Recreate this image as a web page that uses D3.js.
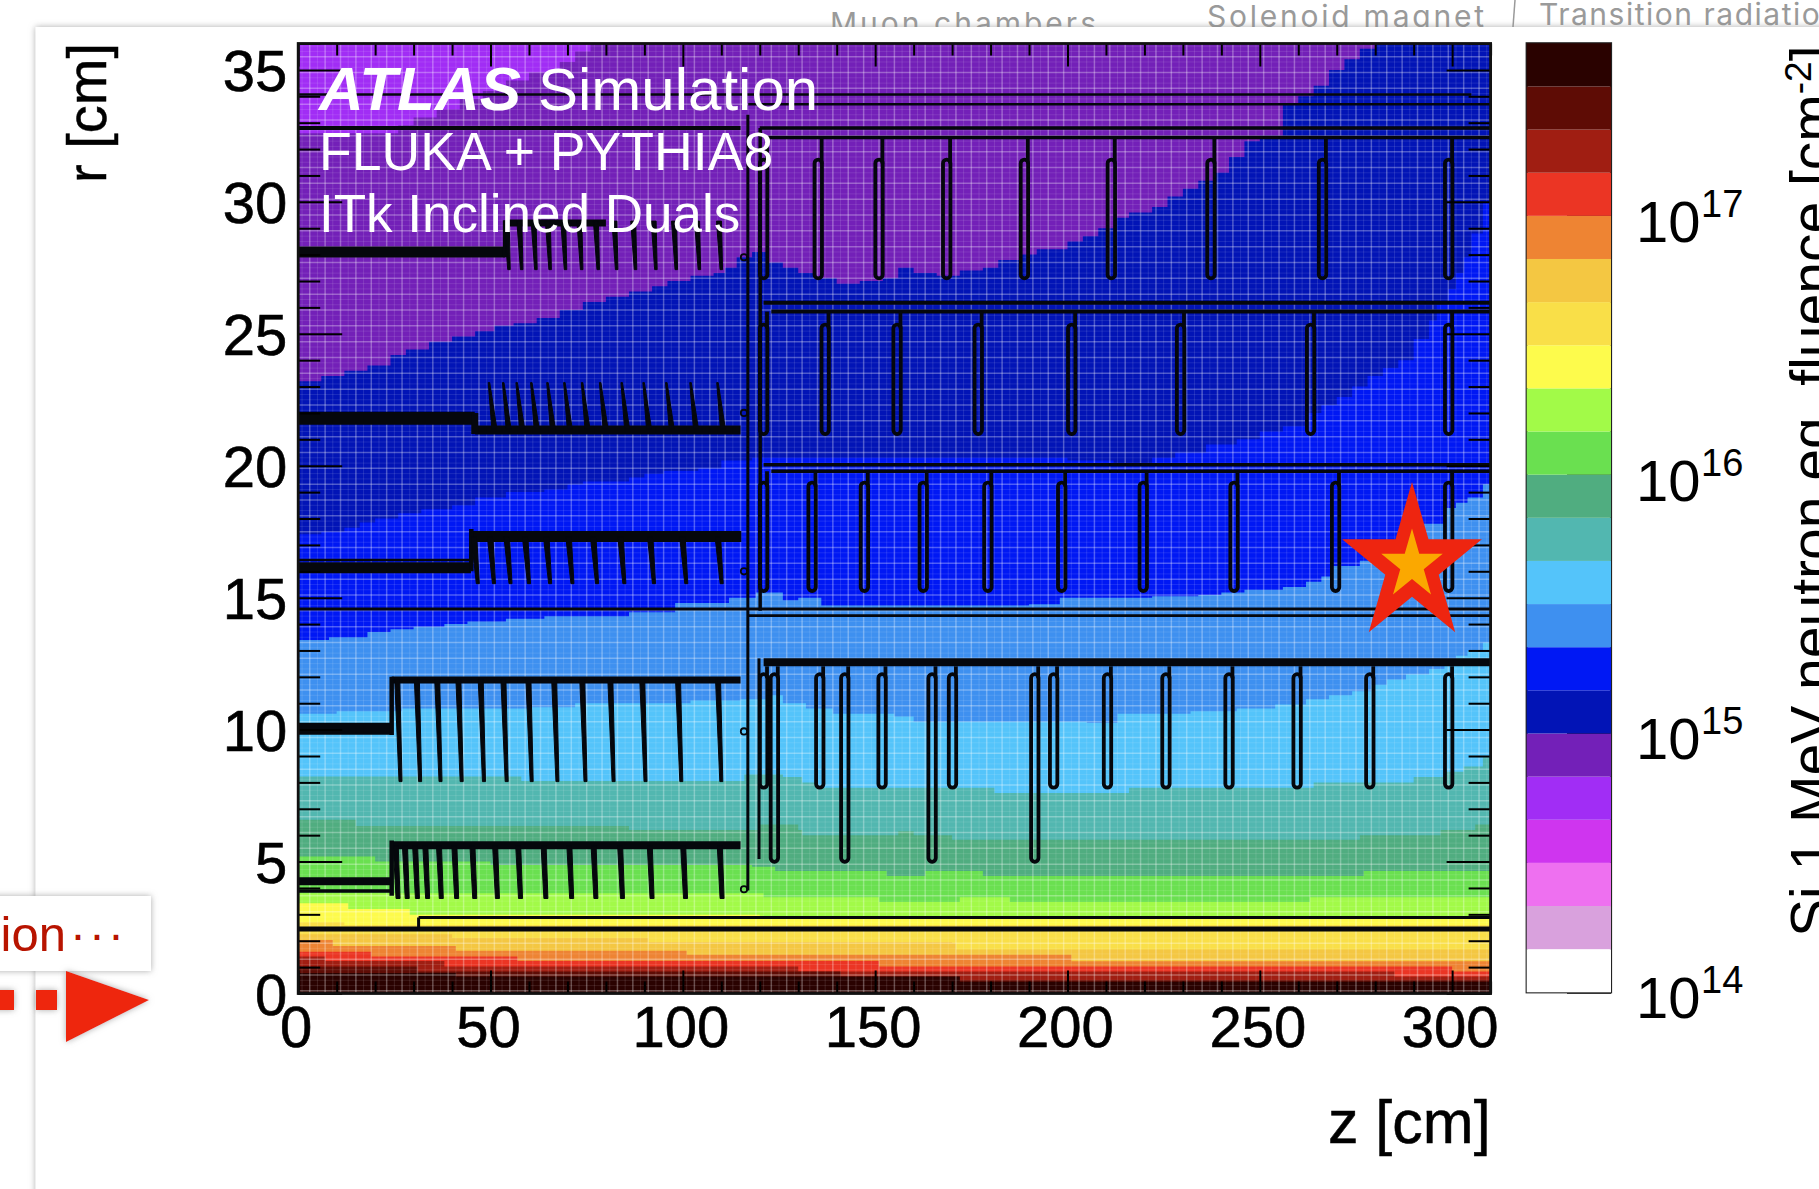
<!DOCTYPE html>
<html>
<head>
<meta charset="utf-8">
<script src="https://d3js.org/d3.v7.min.js"></script>
<style>
body { margin: 0; background: #fff; }
svg { display: block; }
text { font-family: "Liberation Sans", Arial, sans-serif; }
.slideText { font-family: Inter, sans-serif; fill: #9a9a9a; }
</style>
</head>
<body>
<svg width="1819" height="1189"></svg>
<script>
const width = 1819
const height = 1189

// colour bar, bottom to top, 6 bands per decade
const bandColors = ["#ffffff","#d9a1dd","#ee70f0","#cf35ef","#a12df5","#7320b8","#0214b6","#0018f4","#3e90f0","#54c4fa","#52b7b0","#50ad80","#6ae050","#a2fa48","#fdfb4c","#f9df48","#f4c742","#ee8433","#eb3524","#a01e12","#5e0c05","#2a0200"]
const cbarMajor = [1e14, 1e15, 1e16, 1e17]
const cbarMinor = [2e14,3e14,4e14,5e14,6e14,7e14,8e14,9e14,2e15,3e15,4e15,5e15,6e15,7e15,8e15,9e15,2e16,3e16,4e16,5e16,6e16,7e16,8e16,9e16,2e17,3e17,4e17]
const cbarExponents = [14, 15, 16, 17]

const zTicks = [0, 50, 100, 150, 200, 250, 300]
const zMinor = [10,20,30,40,60,70,80,90,110,120,130,140,160,170,180,190,210,220,230,240,260,270,280,290,310]
const rTicks = [0, 5, 10, 15, 20, 25, 30, 35]
const rMinor = [1,2,3,4,6,7,8,9,11,12,13,14,16,17,18,19,21,22,23,24,26,27,28,29,31,32,33,34,36]

// upper edge of each flux band, [z, r], stepped
const edgeDarkPurple = [[0,32.6],[20,32.6],[26,32.9],[30,33.2],[36,33.5],[42,33.9],[48,34.2],[54,34.6],[60,34.9],[68,35.3],[72,35.7],[76,36],[310,36]]
const edgeDarkBlue = [[0,23.2],[6,23.4],[12,23.6],[18,23.8],[24,24.2],[28,24.4],[34,24.7],[40,24.9],[46,25.1],[51,25.3],[56,25.4],[62,25.6],[68,25.9],[74,26.2],[80,26.4],[86,26.6],[92,26.8],[96,27],[102,27.2],[108,27.3],[111,27.5],[114,27.9],[118,28.1],[122,27.7],[126,27.5],[130,27.3],[134,27.1],[140,26.9],[146,27],[152,27.1],[156,27.5],[160,27.3],[166,27.2],[172,27.4],[178,27.5],[182,27.8],[188,28],[192,28.2],[200,28.5],[204,28.7],[208,29],[212,29.4],[216,29.6],[222,29.8],[226,30.2],[230,30.5],[234,30.8],[238,31.1],[242,31.7],[246,32.3],[250,32.5],[256,33.7],[260,34],[264,34.4],[268,35],[272,35.4],[276,35.8],[280,36],[310,36]]
const edgeBlue = [[0,17.4],[6,17.5],[12,17.65],[16,17.85],[20,18],[26,18.2],[32,18.35],[40,18.5],[46,18.8],[54,19],[64,19.1],[70,19.3],[74,19.4],[86,19.55],[90,19.7],[95,19.8],[104,19.9],[110,20.2],[118,20.3],[140,20.3],[180,20.3],[200,20.2],[212,20.1],[222,20.3],[228,20.5],[236,20.8],[244,21],[250,21.3],[256,21.5],[262,22],[266,22.3],[270,22.6],[274,23],[278,23.4],[282,23.7],[286,24],[290,24.8],[294,25.5],[296,26.1],[299,26.7],[301,27.3],[303,27.9],[305,28.8],[308,30],[310,30]]
const edgeMidBlue = [[0,13.4],[8,13.5],[18,13.7],[24,13.8],[30,13.9],[38,14],[44,14.1],[54,14.2],[64,14.3],[78,14.3],[86,14.45],[98,14.8],[104,14.8],[112,15],[119,15.2],[126,14.9],[130,15],[136,14.7],[170,14.7],[190,14.75],[198,15],[222,15.05],[234,15.1],[240,15.2],[246,15.3],[256,15.4],[262,15.6],[266,15.8],[269,16.2],[276,16.4],[284,17],[292,17.8],[298,18.4],[301,18.6],[304,18.8],[308,19.3],[310,19.7]]
const edgeLightBlue = [[0,10.6],[10,10.7],[27,10.8],[60,10.85],[72,11],[88,11],[102,11.1],[115,11.15],[122,11.3],[126,11],[132,10.8],[139,10.6],[155,10.5],[160,10.3],[205,10.25],[213,10.6],[232,10.7],[244,10.8],[254,10.95],[262,11.15],[268,11.3],[274,11.45],[279,11.7],[283,11.9],[288,12.1],[294,12.3],[298,12.6],[301,12.8],[304,13],[308,13.3],[310,13.45]]
const edgeTeal = [[0,8.22],[52,8.22],[58,8.05],[112,8.05],[116,8.3],[126,8.2],[131,8],[135,7.8],[178,7.8],[181,7.6],[212,7.6],[216,7.8],[256,7.8],[264,8],[280,8],[290,8.2],[298,8.4],[303,8.6],[308,8.95],[310,8.95]]
const edgeSeaGreen = [[0,6.58],[14,6.58],[15,6.35],[80,6.35],[86,6.2],[120,6.4],[130,6.2],[131,6],[152,6],[156,6.15],[160,6],[170,5.83],[270,5.83],[276,6],[296,6],[297,6.2],[306,6.4],[310,6.4]]
const edgeGreen = [[0,5.19],[19,5.19],[20,5],[50,4.87],[115,4.87],[118,4.8],[124,4.64],[152,4.64],[153,4.45],[162,4.45],[163,4.64],[177,4.64],[178,4.45],[276,4.45],[277,4.64],[310,4.64]]
const edgeLime = [[0,3.8],[120,3.8],[121,3.65],[150,3.65],[151,3.47],[170,3.47],[172,3.65],[185,3.47],[262,3.47],[263,3.65],[310,3.65]]
const edgeYellow = [[0,3.42],[12,3.42],[13,3.2],[28,3.2],[29,2.98],[120,2.95],[121,2.87],[310,2.87]]
const edgeGold = [[0,2.7],[12,2.6],[310,2.4]]
const edgeAmber = [[0,2.25],[40,2.1],[91,1.95],[170,1.92],[171,1.67],[310,1.67]]
const edgeOrange = [[0,2.03],[8,2.03],[9,1.8],[40,1.8],[41,1.62],[100,1.62],[101,1.47],[200,1.47],[201,1.22],[310,1.22]]
const edgeRed = [[0,1.58],[18,1.58],[19,1.4],[56,1.4],[57,1.23],[150,1.23],[151,1.02],[299,1.02],[300,0.83],[310,0.83]]
const edgeDarkRed = [[0,1.4],[6,1.4],[7,1.23],[37,1.23],[38,1.02],[129,1.02],[130,0.83],[284,0.83],[285,0.64],[310,0.64]]
const edgeMaroon = [[0,1.02],[30,1.02],[31,0.83],[140,0.83],[141,0.64],[171,0.64],[172,0.5],[310,0.5]]
const edgeBlack = [[0,0.78],[40,0.78],[41,0.64],[171,0.64],[172,0.45],[310,0.4]]

// band index in bandColors, edge, painted from the top of the plot downwards
const heatBands = [
  [5, edgeDarkPurple], [6, edgeDarkBlue], [7, edgeBlue], [8, edgeMidBlue],
  [9, edgeLightBlue], [10, edgeTeal], [11, edgeSeaGreen], [12, edgeGreen],
  [13, edgeLime], [14, edgeYellow], [15, edgeGold], [16, edgeAmber],
  [17, edgeOrange], [18, edgeRed], [19, edgeDarkRed], [20, edgeMaroon], [21, edgeBlack]
]

// detector outlines. straight tubes: zStart, zEnd, r, stroke px
const tubes = [
  [0,305,34.07,2.4],[117,310,33.7,2.4],[0,115,32.8,4],[120,310,32.8,3.5],[122,310,32.44,3.5],
  [121,310,26.18,4],[123,310,25.84,4],[121,310,20.04,3.5],[123,310,19.79,3.5],
  [0,310,14.57,3.2],[117,310,14.32,2.6],[121,310,12.55,8],[31.3,310,2.88,3],[0,310,2.44,5],
  [0,24.3,4.25,8],[0,24.3,3.88,3.5],[24.3,115,5.62,8],
  [0,24.3,10.03,12],[24.3,115,11.88,7],
  [0,44.9,16.13,11],[0,44.9,16.43,2.5],[45,115.2,17.32,11],
  [0,45.9,21.8,13],[46,115,21.35,9],
  [0,53.8,28.1,11],[54,80,29.2,7]
]
// vertical pieces: z, rLow, rHigh, stroke px
const posts = [
  [116.9,3.9,33.3,3],[120.1,14.5,32.8,3.5],[119.8,5.1,12.7,3],[31.3,2.44,2.88,3],
  [24.3,3.7,5.8,4.5],[24.3,9.8,12,4.5],[45,16,17.6,4.5],[45.9,21.2,22,7],[53.8,27.9,29.3,4.5]
]
const ringClips = [[115.9,27.9],[115.9,22],[115.9,16],[115.9,9.93],[115.9,3.95]]

// inclined modules: bottom z of each, rTop, rBottom, tilt of the top in z, px width at top and bottom
const finsL0 = [25.96,28.35,31,33.65,37.2,41.2,45.9,51.8,57.8,64.4,71.1,77.4,84.3,92,100.7,110.2]
const finsL1 = [26.6,31.7,37,42.5,48.3,54.2,60.7,67.4,74.7,82,90.3,99.6,110]
const finsL2 = [46.7,50.9,55.2,60,65.5,71.3,77.7,84.8,92.5,100.9,110.1]
const finsL3 = [51,54.7,58.2,62,66.2,70.6,75.2,79.9,85.5,91.2,97.1,103.4,110.4]
const finsL4 = [54.8,58.1,61.8,65.5,69.5,73.7,78,82.8,87.7,93,98.3,104.3,110]
const finGroups = [
  [finsL0, 5.6, 3.6, 0.6, 5, 4], [finsL1, 11.9, 8.03, 0.85, 5, 3], [finsL2, 17.3, 15.53, 1, 5.5, 3],
  [finsL3, 23.15, 21.4, 1.4, 1.5, 5], [finsL4, 29.27, 27.43, 0.6, 5, 2.5]
]

// end-cap rings: z of each capsule, rTop, rBottom, r the stem starts from
const ringsA = [121,135.2,151,168.6,188.8,211.4,237.3,266.3,299.1]
const ringsB = [121,137,155.7,176.8,201.1,229.4,263.2,299.1]
const ringsC = [121,133.6,147.2,162.5,179.3,198.5,219.7,243.3,269.7,299.1]
const ringsD = [121,135.6,151.8,170.1,196.4,210.4,225.6,242,259.7,278.6,299.1]
const ringsE = [123.8,142.1,164.8,191.5]
const ringGroups = [
  [ringsA, 31.6, 27.1, 32.44], [ringsB, 25.35, 21.2, 25.84], [ringsC, 19.36, 15.25, 19.79],
  [ringsD, 12.1, 7.8, 12.4], [ringsE, 12.1, 4.99, 12.4]
]

const svg = d3.select("svg")
const defs = svg.append("defs")

const shadow = defs.append("filter").attr("id", "shadow")
  .attr("x", "-10%").attr("y", "-10%").attr("width", "120%").attr("height", "120%")
shadow.append("feDropShadow").attr("dx", 0).attr("dy", 0).attr("stdDeviation", 3)
  .attr("flood-color", "#888").attr("flood-opacity", 0.7)

// what shows behind the slide on top
svg.append("text").attr("class", "slideText").attr("x", 830).attr("y", 34).attr("font-size", 30).attr("textLength", 266).text("Muon chambers")
svg.append("text").attr("class", "slideText").attr("x", 1207).attr("y", 27).attr("font-size", 30).attr("textLength", 277).text("Solenoid magnet")
svg.append("text").attr("class", "slideText").attr("x", 1539).attr("y", 25).attr("font-size", 30).attr("textLength", 300).text("Transition radiation")
svg.append("line").attr("x1", 1515).attr("x2", 1513).attr("y1", 0).attr("y2", 27).attr("stroke", "#9a9a9a").attr("stroke-width", 1.5)

svg.append("rect").attr("x", 35.5).attr("y", 27).attr("width", width).attr("height", height)
  .attr("fill", "#fff").attr("filter", "url(#shadow)")

// plot area
const x0 = 298.2, x1 = 1490.6, y0 = 993.5, y1 = 43.5
const z = d3.scaleLinear().domain([0, 310]).range([x0, x1])
const r = d3.scaleLinear().domain([0, 36]).range([y0, y1])

defs.append("clipPath").attr("id", "plotClip").append("rect")
  .attr("x", x0).attr("y", y1).attr("width", x1 - x0).attr("height", y0 - y1)

const plot = svg.append("g").attr("clip-path", "url(#plotClip)")

plot.append("rect").attr("x", x0).attr("y", y1).attr("width", x1 - x0).attr("height", y0 - y1)
  .attr("fill", bandColors[4])

const bandArea = d3.area().curve(d3.curveStepAfter)
  .x(d => z(d[0])).y0(r(0)).y1(d => r(d[1]))

plot.selectAll("path.band").data(heatBands).enter().append("path")
  .attr("class", "band")
  .attr("d", d => bandArea(d[1]))
  .attr("fill", d => bandColors[d[0]])

// the faint bin lines of the histogram
const zBins = d3.range(0, 312, 2)
const rBins = d3.range(0, 36.2, 0.2)
plot.selectAll("line.zbin").data(zBins).enter().append("line")
  .attr("class", "zbin")
  .attr("x1", d => z(d + 1)).attr("x2", d => z(d + 1)).attr("y1", y0).attr("y2", y1)
  .attr("stroke", "#fff").attr("stroke-width", (d, i) => i % 2 ? 1.5 : 1)
  .attr("stroke-opacity", (d, i) => i % 2 ? 0.3 : 0.12)
plot.selectAll("line.rbin").data(rBins).enter().append("line")
  .attr("class", "rbin")
  .attr("x1", x0).attr("x2", x1).attr("y1", d => r(d + 0.1)).attr("y2", d => r(d + 0.1))
  .attr("stroke", "#fff").attr("stroke-width", (d, i) => i % 3 == 0 ? 1.5 : 1)
  .attr("stroke-opacity", (d, i) => i % 3 == 0 ? 0.3 : 0.1)

// detector
const det = plot.append("g").attr("stroke", "#05070c").attr("fill", "none")

det.selectAll("line.tube").data(tubes).enter().append("line")
  .attr("class", "tube")
  .attr("x1", d => z(d[0])).attr("x2", d => z(d[1]))
  .attr("y1", d => r(d[2])).attr("y2", d => r(d[2]))
  .attr("stroke-width", d => d[3])

det.selectAll("line.post").data(posts).enter().append("line")
  .attr("class", "post")
  .attr("x1", d => z(d[0])).attr("x2", d => z(d[0]))
  .attr("y1", d => r(d[1])).attr("y2", d => r(d[2]))
  .attr("stroke-width", d => d[3])

det.selectAll("circle").data(ringClips).enter().append("circle")
  .attr("cx", d => z(d[0])).attr("cy", d => r(d[1])).attr("r", 3.2)
  .attr("stroke-width", 1.8)

finGroups.forEach(function(g){
  det.selectAll(null).data(g[0]).enter().append("path")
    .attr("d", function(d){
      const xt = z(d - g[3]), xb = z(d)
      return `M${xt - g[4] / 2},${r(g[1])}L${xt + g[4] / 2},${r(g[1])}L${xb + g[5] / 2},${r(g[2])}L${xb - g[5] / 2},${r(g[2])}Z`
    })
    .attr("fill", "#05070c").attr("stroke-width", 1).attr("stroke-linejoin", "round")
})

ringGroups.forEach(function(g){
  const sel = det.selectAll(null).data(g[0]).enter()
  sel.append("rect")
    .attr("x", d => z(d) - 3.7).attr("width", 7.4)
    .attr("y", r(g[1])).attr("height", r(g[2]) - r(g[1]))
    .attr("rx", 3.7).attr("stroke-width", 3.8)
  sel.append("line")
    .attr("x1", d => z(d) + 3.4).attr("x2", d => z(d) + 3.4)
    .attr("y1", r(g[3])).attr("y2", r(g[1]) + 4)
    .attr("stroke-width", 3.8)
})

// ticks, on all four sides
const axes = svg.append("g")
function ticks(axis, tr){
  const g = axes.append("g").attr("transform", tr).call(axis)
  g.select(".domain").remove()
  g.selectAll("line").attr("stroke", "#000").attr("stroke-width", 2)
  g.selectAll("text").remove()
}
ticks(d3.axisBottom(z).tickValues(zTicks).tickSize(-23), `translate(0,${y0})`)
ticks(d3.axisBottom(z).tickValues(zMinor).tickSize(-12), `translate(0,${y0})`)
ticks(d3.axisTop(z).tickValues(zTicks).tickSize(-23), `translate(0,${y1})`)
ticks(d3.axisTop(z).tickValues(zMinor).tickSize(-12), `translate(0,${y1})`)
ticks(d3.axisLeft(r).tickValues(rTicks).tickSize(-44), `translate(${x0},0)`)
ticks(d3.axisLeft(r).tickValues(rMinor).tickSize(-22), `translate(${x0},0)`)
ticks(d3.axisRight(r).tickValues(rTicks).tickSize(-44), `translate(${x1},0)`)
ticks(d3.axisRight(r).tickValues(rMinor).tickSize(-22), `translate(${x1},0)`)

axes.append("rect").attr("x", x0).attr("y", y1).attr("width", x1 - x0).attr("height", y0 - y1)
  .attr("fill", "none").attr("stroke", "#111").attr("stroke-width", 2.8)

// tick labels
const zLabels = svg.append("g").attr("transform", `translate(0,${y0})`)
  .call(d3.axisBottom(z).tickValues(zTicks).tickSize(0).tickPadding(12))
zLabels.select(".domain").remove()
zLabels.selectAll("text").attr("font-size", 58).attr("font-family", "Liberation Sans").attr("fill", "#000")
  .attr("stroke", "#000").attr("stroke-width", 0.6)
  .attr("transform", "translate(-2.5,0)")

const rLabels = svg.append("g").attr("transform", `translate(${x0},0)`)
  .call(d3.axisLeft(r).tickValues(rTicks).tickSize(0).tickPadding(11))
rLabels.select(".domain").remove()
rLabels.selectAll("text").attr("font-size", 58).attr("font-family", "Liberation Sans").attr("fill", "#000").attr("dy", "0.36em")
  .attr("stroke", "#000").attr("stroke-width", 0.6)

// axis titles
svg.append("text").attr("x", x1).attr("y", 1143).attr("text-anchor", "end").attr("font-size", 61).attr("stroke", "#000").attr("stroke-width", 0.5).text("z [cm]")
svg.append("text").attr("transform", "translate(106,43) rotate(-90)").attr("text-anchor", "end").attr("font-size", 56).attr("stroke", "#000").attr("stroke-width", 0.5).text("r [cm]")

// labels inside the plot
const atlas = svg.append("text").attr("x", 319).attr("y", 110).attr("font-size", 62).attr("fill", "#fff")
atlas.append("tspan").attr("font-weight", "bold").attr("font-style", "italic").text("ATLAS")
atlas.append("tspan").attr("x", 538).attr("font-size", 60).text("Simulation")
svg.append("text").attr("x", 319).attr("y", 170).attr("font-size", 53.6).attr("fill", "#fff").text("FLUKA + PYTHIA8")
svg.append("text").attr("x", 319).attr("y", 232).attr("font-size", 53).attr("fill", "#fff").text("ITk Inclined Duals")

// colour bar
const cbarX0 = 1526.7, cbarX1 = 1611
const flux = d3.scaleLog().domain([1e14, Math.pow(10, 14 + 22 / 6)]).range([992.3, 43.3])
svg.append("g").selectAll("rect").data(bandColors).enter().append("rect")
  .attr("x", cbarX0).attr("width", cbarX1 - cbarX0)
  .attr("y", (d, i) => flux(Math.pow(10, 14 + (i + 1) / 6)))
  .attr("height", (d, i) => flux(Math.pow(10, 14 + i / 6)) - flux(Math.pow(10, 14 + (i + 1) / 6)))
  .attr("fill", d => d)

ticks(d3.axisRight(flux).tickValues(cbarMajor).tickSize(-44).tickFormat(""), `translate(${cbarX1},0)`)
ticks(d3.axisRight(flux).tickValues(cbarMinor).tickSize(-21).tickFormat(""), `translate(${cbarX1},0)`)

axes.append("rect").attr("x", cbarX0).attr("y", 43.3).attr("width", cbarX1 - cbarX0).attr("height", 949)
  .attr("fill", "none").attr("stroke", "#222").attr("stroke-width", 2.2)

const cbarLabels = svg.append("g").selectAll("g").data(cbarExponents).enter().append("g")
  .attr("transform", d => `translate(1636,${flux(Math.pow(10, d)) + 26})`)
cbarLabels.append("text").attr("font-size", 58).text("10")
cbarLabels.append("text").attr("x", 65).attr("y", -25).attr("font-size", 38).text(d => d)

// colour bar title runs off the page
const zTitle = svg.append("text").attr("transform", "translate(1831,937) rotate(-90)").attr("font-size", 57)
zTitle.append("tspan").text("Si 1 MeV neutron eq. fluence [cm")
zTitle.append("tspan").attr("font-size", 37).attr("dy", -20).text("-2")
zTitle.append("tspan").attr("dy", 20).text("]")

// star marker
const star = svg.append("g").attr("transform", "translate(1412,565) scale(0.886,1)")
star.append("path").attr("d", d3.symbol(d3.symbolStar, 7733)()).attr("fill", "#ee2510")
star.append("path").attr("d", d3.symbol(d3.symbolStar, 1495)()).attr("fill", "#fba800")

// box and arrow from the neighbouring slide
svg.append("rect").attr("x", -10).attr("y", 896).attr("width", 161).attr("height", 75)
  .attr("fill", "#fff").attr("filter", "url(#shadow)")
svg.append("text").attr("x", 66).attr("y", 951).attr("text-anchor", "end").attr("font-size", 49)
  .attr("font-family", "Noto Sans").attr("fill", "#b81400").text("ion")
svg.append("text").attr("x", 70).attr("y", 951).attr("font-size", 48).attr("letter-spacing", 3)
  .attr("font-family", "Noto Sans").attr("fill", "#b81400").text("···")
const arrow = svg.append("g").attr("fill", "#ee2510").attr("filter", "url(#shadow)")
arrow.append("rect").attr("x", -8).attr("y", 990).attr("width", 22).attr("height", 20)
arrow.append("rect").attr("x", 36).attr("y", 990).attr("width", 21).attr("height", 20)
arrow.append("path").attr("d", "M66,971L149,1000L66,1042Z")
</script>
</body>
</html>
